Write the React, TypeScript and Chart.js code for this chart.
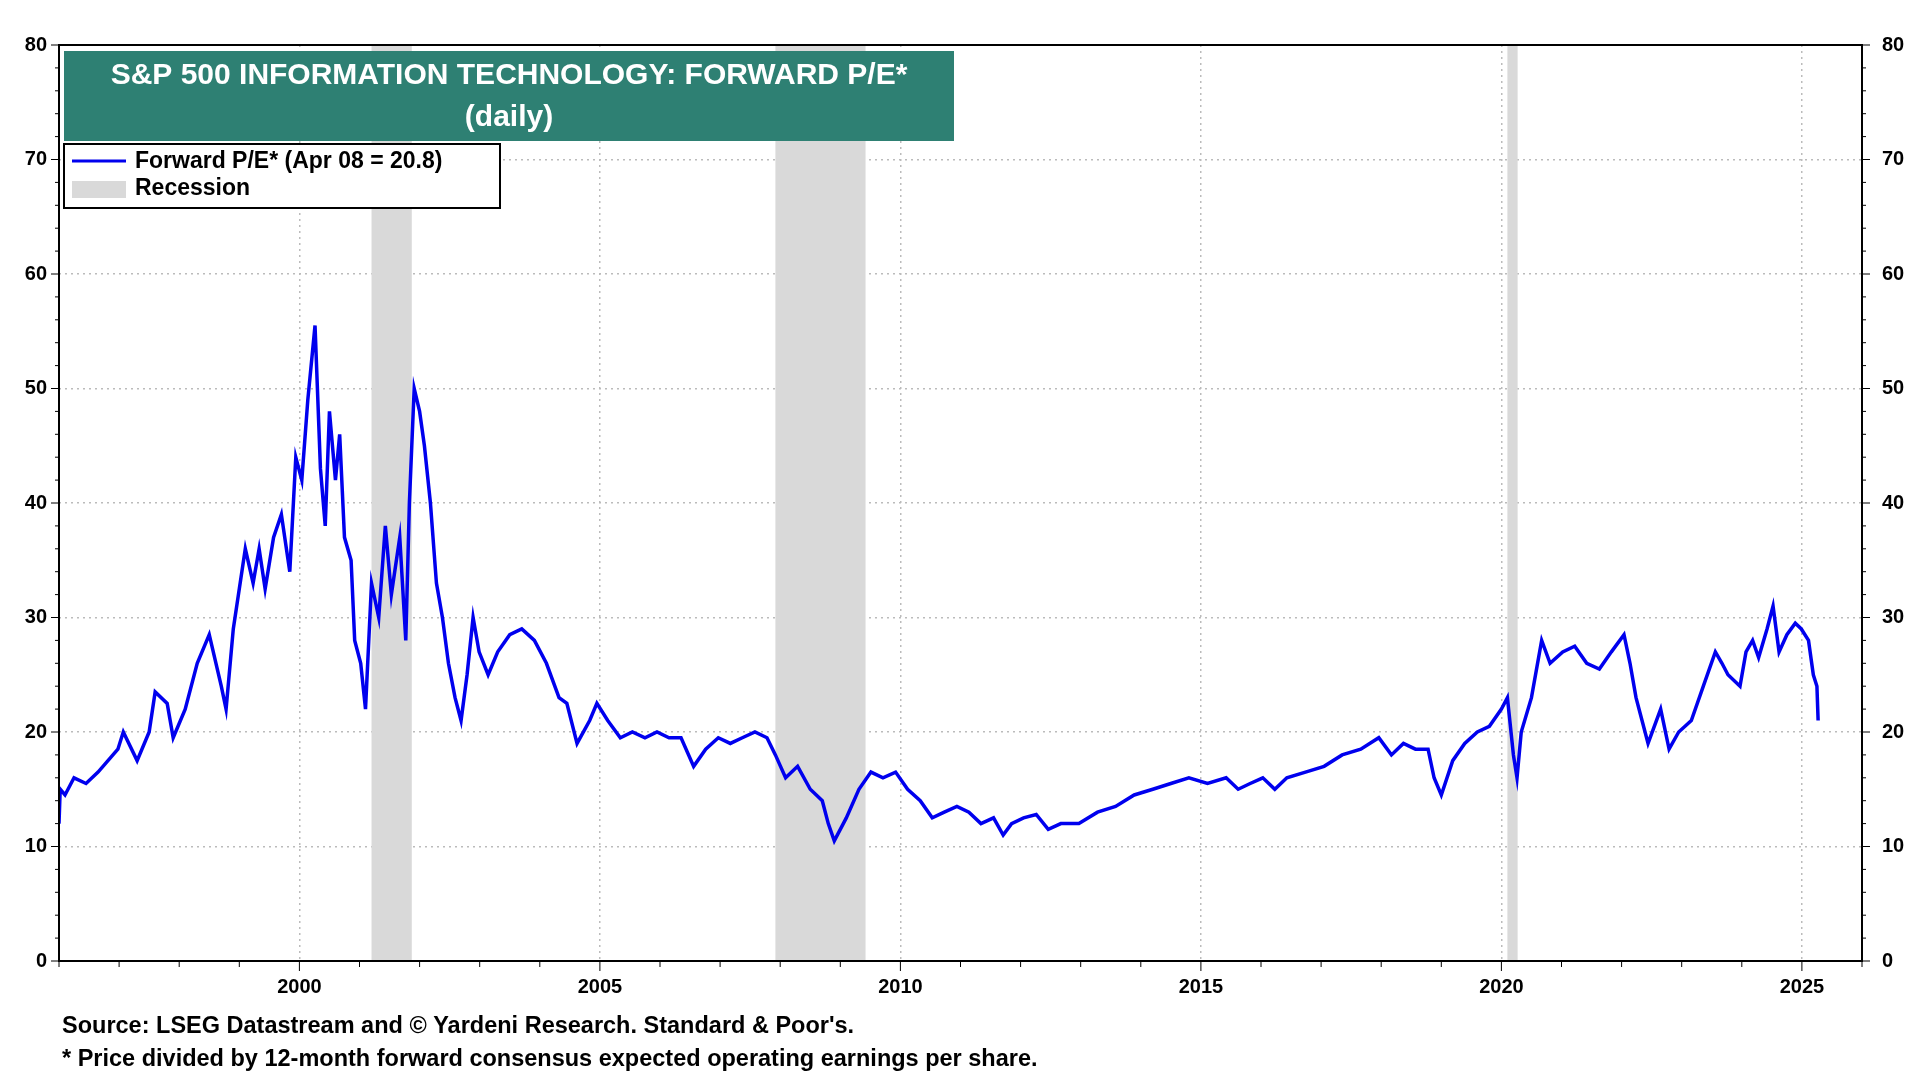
import React, { useEffect, useRef } from "react";
import { Chart, registerables } from "chart.js";
Chart.register(...registerables);

const years = [1996.0,1996.02,1996.1,1996.25,1996.45,1996.65,1996.98,1997.07,1997.3,1997.5,1997.6,1997.8,1997.9,1998.1,1998.3,1998.5,1998.7,1998.78,1998.9,1999.1,1999.23,1999.33,1999.43,1999.57,1999.7,1999.84,1999.94,2000.04,2000.14,2000.26,2000.35,2000.43,2000.5,2000.6,2000.67,2000.75,2000.86,2000.92,2001.02,2001.1,2001.2,2001.32,2001.43,2001.53,2001.67,2001.77,2001.83,2001.91,2002.0,2002.08,2002.18,2002.28,2002.38,2002.48,2002.59,2002.69,2002.79,2002.89,2002.99,2003.14,2003.3,2003.5,2003.7,2003.91,2004.11,2004.32,2004.45,2004.62,2004.83,2004.95,2005.13,2005.34,2005.54,2005.75,2005.95,2006.15,2006.35,2006.56,2006.76,2006.97,2007.17,2007.37,2007.58,2007.78,2007.92,2008.09,2008.29,2008.5,2008.7,2008.8,2008.9,2009.1,2009.31,2009.51,2009.71,2009.92,2010.12,2010.33,2010.53,2010.73,2010.94,2011.14,2011.34,2011.55,2011.71,2011.85,2012.05,2012.26,2012.46,2012.67,2012.97,2013.28,2013.58,2013.89,2014.2,2014.5,2014.8,2015.11,2015.42,2015.62,2015.82,2016.03,2016.23,2016.43,2016.74,2017.05,2017.35,2017.66,2017.96,2018.17,2018.37,2018.57,2018.78,2018.88,2019.0,2019.19,2019.39,2019.6,2019.8,2020.0,2020.1,2020.2,2020.26,2020.33,2020.5,2020.67,2020.81,2021.02,2021.22,2021.42,2021.63,2021.83,2022.04,2022.14,2022.24,2022.34,2022.44,2022.65,2022.79,2022.95,2023.16,2023.36,2023.56,2023.67,2023.77,2023.97,2024.07,2024.18,2024.28,2024.42,2024.52,2024.62,2024.75,2024.89,2024.99,2025.11,2025.19,2025.25,2025.27];
const forwardPE = [12,15,14.5,16,15.5,16.5,18.5,20,17.5,20,23.5,22.5,19.5,22,26,28.5,24,22,29,36,33,36,32.5,37,39,34,44,42,49,55.5,43,38,48,42,46,37,35,28,26,22,33,30,38,32,37,28,40,50,48,45,40,33,30,26,23,21,25,30,27,25,27,28.5,29,28,26,23,22.5,19,21,22.5,21,19.5,20,19.5,20,19.5,19.5,17,18.5,19.5,19,19.5,20,19.5,18,16,17,15,14,12,10.5,12.5,15,16.5,16,16.5,15,14,12.5,13,13.5,13,12,12.5,11,12,12.5,12.8,11.5,12,12,13,13.5,14.5,15,15.5,16,15.5,16,15,15.5,16,15,16,16.5,17,18,18.5,19.5,18,19,18.5,18.5,16,14.5,17.5,19,20,20.5,22,23,18,16,20,23,28,26,27,27.5,26,25.5,27,28.5,26,23,21,19,22,18.5,20,21,24,27,26,25,24,27,28,26.5,29,31,27,28.5,29.5,29,28,25,24,21];
const recessions = [[2001.2, 2001.87], [2007.92, 2009.42], [2020.1, 2020.27]];
const yTicks = [0,10,20,30,40,50,60,70,80];
const xTicks = [2000,2005,2010,2015,2020,2025];
const titleLines = ["S&P 500 INFORMATION TECHNOLOGY: FORWARD P/E*", "(daily)"];
const legendLabels = ["Forward P/E* (Apr 08 = 20.8)", "Recession"];
const footnotes = ["Source: LSEG Datastream and \u00A9 Yardeni Research. Standard & Poor's.", "* Price divided by 12-month forward consensus expected operating earnings per share."];

export default function App() {
  const ref = useRef<HTMLCanvasElement>(null);
  useEffect(() => {
    document.body.style.margin = "0";
    const F = "Arial, 'Liberation Sans', sans-serif";
    const deco = {
      id: "deco",
      beforeDatasetsDraw(c: any) {
        const { ctx, chartArea: a, scales } = c;
        const x = scales.x;
        ctx.save();
        ctx.fillStyle = "#d9d9d9";
        recessions.forEach(([s, e]) => {
          const x1 = x.getPixelForValue(s), x2 = x.getPixelForValue(e);
          ctx.fillRect(x1, a.top, x2 - x1, a.bottom - a.top);
        });
        ctx.restore();
      },
      afterDatasetsDraw(c: any) {
        const { ctx, chartArea: a, scales } = c;
        const x = scales.x, y = scales.y;
        ctx.save();
        ctx.strokeStyle = "#000"; ctx.lineWidth = 2;
        ctx.strokeRect(a.left, a.top, a.right - a.left, a.bottom - a.top);
        ctx.lineWidth = 1;
        for (let yr = 1996; yr <= 2026; yr++) {
          const px = x.getPixelForValue(yr);
          const len = yr % 5 === 0 ? 10 : 6;
          ctx.beginPath(); ctx.moveTo(px, a.bottom); ctx.lineTo(px, a.bottom + len); ctx.stroke();
        }
        for (let v = 0; v <= 80; v += 2) {
          const py = y.getPixelForValue(v);
          const len = v % 10 === 0 ? 8 : 4;
          ctx.beginPath(); ctx.moveTo(a.left, py); ctx.lineTo(a.left - len, py); ctx.stroke();
          ctx.beginPath(); ctx.moveTo(a.right, py); ctx.lineTo(a.right + len, py); ctx.stroke();
        }
        ctx.fillStyle = "#2e8073";
        ctx.fillRect(64, 51, 890, 90);
        ctx.fillStyle = "#fff"; ctx.font = `bold 30px ${F}`; ctx.textAlign = "center"; ctx.textBaseline = "middle";
        ctx.fillText(titleLines[0], 509, 76);
        ctx.fillText(titleLines[1], 509, 118);
        ctx.fillStyle = "#fff"; ctx.fillRect(64, 144, 436, 64);
        ctx.strokeStyle = "#000"; ctx.lineWidth = 2; ctx.strokeRect(64, 144, 436, 64);
        ctx.strokeStyle = "#0000ee"; ctx.lineWidth = 3;
        ctx.beginPath(); ctx.moveTo(72, 161); ctx.lineTo(126, 161); ctx.stroke();
        ctx.fillStyle = "#d9d9d9"; ctx.fillRect(72, 181, 54, 17);
        ctx.fillStyle = "#000"; ctx.font = `bold 23px ${F}`; ctx.textAlign = "left";
        ctx.fillText(legendLabels[0], 135, 162);
        ctx.fillText(legendLabels[1], 135, 189);
        ctx.font = `bold 23.5px ${F}`;
        ctx.fillText(footnotes[0], 62, 1027);
        ctx.fillText(footnotes[1], 62, 1060);
        ctx.restore();
      },
    };
    const tickFont = { family: F, size: 20, weight: "bold" as const };
    const chart = new Chart(ref.current!, {
      type: "line",
      data: { datasets: [{ data: years.map((yr, i) => ({ x: yr, y: forwardPE[i] })), borderColor: "#0000ee", borderWidth: 3.5, pointRadius: 0, tension: 0 }] },
      options: {
        animation: false, responsive: false, maintainAspectRatio: false,
        layout: { padding: { top: 45, left: 0, right: 0, bottom: 0 } },
        plugins: { legend: { display: false }, tooltip: { enabled: false } },
        scales: {
          x: {
            type: "linear", min: 1996, max: 2026,
            afterBuildTicks: (s: any) => { s.ticks = xTicks.map(v => ({ value: v })); },
            afterFit: (s: any) => { s.height = 119; },
            ticks: { font: tickFont, color: "#000", padding: 14, callback: (v: any) => String(v) },
            grid: { color: "#bbb", lineWidth: 1.5, tickLength: 0, drawTicks: false },
            border: { display: false, dash: [2, 4] } as any,
          },
          y: {
            min: 0, max: 80,
            afterBuildTicks: (s: any) => { s.ticks = yTicks.map(v => ({ value: v })); },
            afterFit: (s: any) => { s.width = 59; },
            ticks: { font: tickFont, color: "#000", padding: 12 },
            grid: { color: "#bbb", lineWidth: 1.5, drawTicks: false },
            border: { display: false, dash: [2, 4] } as any,
          },
          y2: {
            position: "right", min: 0, max: 80,
            afterBuildTicks: (s: any) => { s.ticks = yTicks.map(v => ({ value: v })); },
            afterFit: (s: any) => { s.width = 58; },
            ticks: { font: tickFont, color: "#000", padding: 12 },
            grid: { display: false },
            border: { display: false },
          },
        },
      },
      plugins: [deco],
    });
    return () => chart.destroy();
  }, []);
  return <canvas ref={ref} width={1920} height={1080} style={{ display: "block" }} />;
}
